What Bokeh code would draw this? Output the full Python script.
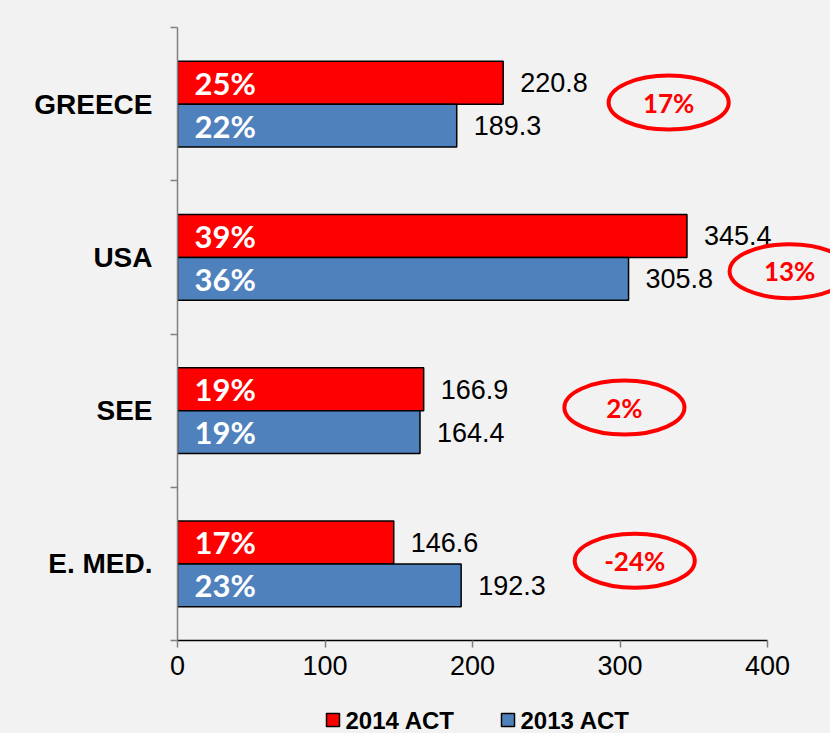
from bokeh.plotting import figure
from bokeh.layouts import column
from bokeh.models import Range1d, FixedTicker, ColumnDataSource
from bokeh.core.properties import value
from bokeh.embed import file_html
from bokeh.resources import INLINE

# ---- data ----
regions = ["GREECE", "USA", "SEE", "E. MED."]
act_2014 = [220.8, 345.4, 166.9, 146.6]
act_2013 = [189.3, 305.8, 164.4, 192.3]
share_2014 = ["25%", "39%", "19%", "17%"]
share_2013 = ["22%", "36%", "19%", "23%"]
change = ["17%", "13%", "2%", "-24%"]
x_ticks = [0, 100, 200, 300, 400]
series_names = ["2014 ACT", "2013 ACT"]
series_colors = ["#ff0000", "#4f81bd"]

# ---- layout helpers (annotation placement, not data) ----
badge_x = [333, 415, 303, 310]
badge_dy = [0.01, -0.09, 0.02, 0.02]
BAR_H = 0.28
W = 830
LEG_H = 40
MAIN_H = 733 - LEG_H
FRAME_TOP, FRAME_BOTTOM, FRAME_LEFT = 27, 640, 177
legend_x = [326, 501]          # left edge of each legend swatch (px)
legend_y = 26.5                # swatch centre from top of legend strip (px)

n = len(regions)
yc = [n - i - 0.5 for i in range(n)]
y14 = [y + BAR_H / 2 for y in yc]
y13 = [y - BAR_H / 2 for y in yc]

src = ColumnDataSource(dict(
    y14=y14, y13=y13, v14=act_2014, v13=act_2013,
    s14=share_2014, s13=share_2013,
    l14=[f"{v:.1f}" for v in act_2014], l13=[f"{v:.1f}" for v in act_2013],
    zero=[0] * n,
))
bsrc = ColumnDataSource(dict(
    x=badge_x, y=[y + d for y, d in zip(yc, badge_dy)], t=change,
))

BG = "#f2f2f2"
frame_w = W - FRAME_LEFT
p = figure(width=W, height=MAIN_H, output_backend="svg", toolbar_location=None,
           x_range=Range1d(0, 400 * frame_w / 590.0), y_range=Range1d(0, 4),
           min_border_left=FRAME_LEFT, min_border_right=0, min_border_top=FRAME_TOP,
           min_border_bottom=MAIN_H - FRAME_BOTTOM)
p.background_fill_color = BG
p.border_fill_color = BG
p.outline_line_color = None
p.xgrid.visible = False
p.ygrid.visible = False

r14 = p.hbar(y="y14", right="v14", left=0, height=BAR_H, source=src,
             fill_color=series_colors[0], line_color="black", line_width=1.5)
r13 = p.hbar(y="y13", right="v13", left=0, height=BAR_H, source=src,
             fill_color=series_colors[1], line_color="black", line_width=1.5)

# shares inside bars
for ycol, tcol in (("y14", "s14"), ("y13", "s13")):
    p.text(x="zero", y=ycol, text=tcol, source=src, x_offset=17,
           text_font=value("Lato"), text_font_style="bold", text_font_size="31px",
           text_color="white", text_align="left", text_baseline="middle")

# values after bars
for ycol, xcol, tcol in (("y14", "v14", "l14"), ("y13", "v13", "l13")):
    p.text(x=xcol, y=ycol, text=tcol, source=src, x_offset=17,
           text_font=value("Liberation Sans"), text_font_size="27px",
           text_color="black", text_align="left", text_baseline="middle")

# change badges
p.ellipse(x="x", y="y", width=81.4, height=0.352, source=bsrc,
          fill_color=None, line_color="#ff0000", line_width=4)
p.text(x="x", y="y", text="t", source=bsrc,
       text_font=value("Lato"), text_font_style="bold", text_font_size="26px",
       text_color="#ff0000", text_align="center", text_baseline="middle")

# x axis
xa = p.xaxis[0]
xa.bounds = (0, 400)
xa.ticker = FixedTicker(ticks=x_ticks)
xa.minor_tick_line_color = None
xa.axis_line_color = "black"
xa.axis_line_width = 1.5
xa.major_tick_line_color = "#808080"
xa.major_tick_line_width = 1.5
xa.major_tick_in = 0
xa.major_tick_out = 7
xa.major_label_standoff = 8
xa.major_label_text_font = "Liberation Sans"
xa.major_label_text_font_size = "27px"
xa.major_label_text_color = "black"

# y axis (category labels)
ya = p.yaxis[0]
ya.ticker = FixedTicker(ticks=yc, minor_ticks=[0, 1, 2, 3, 4])
ya.major_label_overrides = {y: r for y, r in zip(yc, regions)}
ya.axis_line_color = "#808080"
ya.axis_line_width = 1.5
ya.major_tick_line_color = None
ya.major_tick_out = 0
ya.major_tick_in = 0
ya.minor_tick_line_color = "#808080"
ya.minor_tick_line_width = 1.5
ya.minor_tick_out = 7
ya.minor_tick_in = 0
ya.major_label_standoff = 18
ya.major_label_text_font = "Liberation Sans"
ya.major_label_text_font_style = "bold"
ya.major_label_text_font_size = "28px"
ya.major_label_text_color = "black"

# ---- legend strip (pixel-space figure, frame aligned with main frame) ----
lg = figure(width=W, height=LEG_H, output_backend="svg", toolbar_location=None,
            x_range=Range1d(FRAME_LEFT, W), y_range=Range1d(LEG_H, 0),
            x_axis_location=None, y_axis_location=None,
            min_border_left=FRAME_LEFT, min_border_right=0,
            min_border_top=0, min_border_bottom=0)
lg.background_fill_color = BG
lg.border_fill_color = BG
lg.outline_line_color = None
lg.xgrid.visible = False
lg.ygrid.visible = False
lsrc = ColumnDataSource(dict(
    x=[x + 6.5 for x in legend_x], tx=[x + 19 for x in legend_x],
    y=[legend_y] * len(series_names), name=series_names, color=series_colors,
))
lg.rect(x="x", y="y", width=13, height=13, source=lsrc,
        fill_color="color", line_color="black", line_width=1.5)
lg.text(x="tx", y="y", text="name", source=lsrc,
        text_font=value("Liberation Sans"), text_font_style="bold",
        text_font_size="24px", text_color="black",
        text_align="left", text_baseline="middle")

layout = column(p, lg, spacing=0, styles={"background-color": BG})
open("out.html", "w").write(file_html(layout, INLINE))
